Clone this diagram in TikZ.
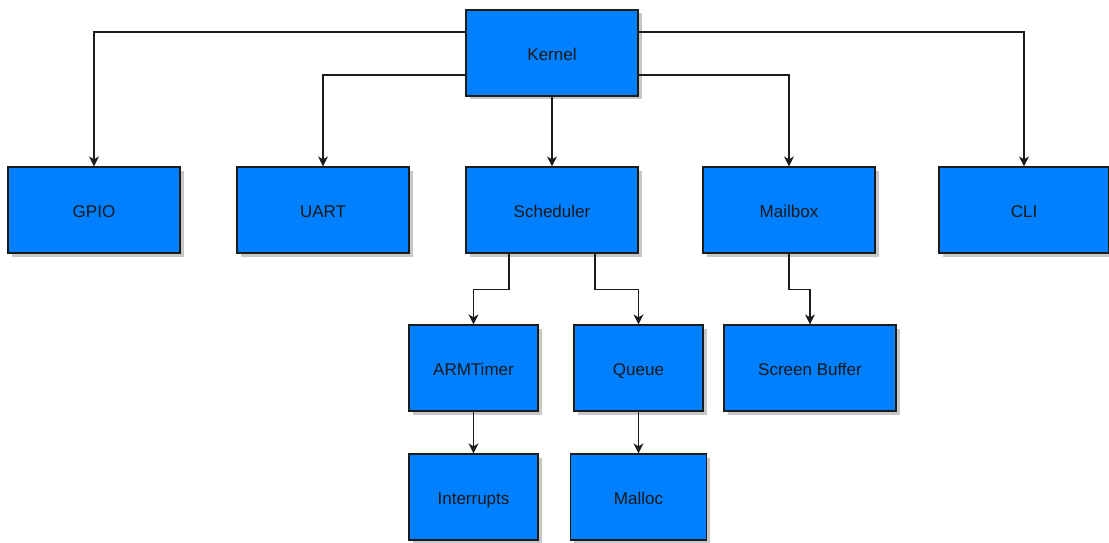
\documentclass[tikz,border=0pt]{standalone}
\usepackage{fontspec}
\setmainfont{Liberation Sans}
\usetikzlibrary{arrows.meta,shadows}
\definecolor{boxblue}{HTML}{007FFF}
\definecolor{edge}{HTML}{1C1C1C}
\tikzset{
  block/.style={draw=edge, line width=1.2pt, fill=boxblue, text=black!90,
    minimum height=86pt, inner sep=0pt, text height=16pt, text depth=1pt,
    font=\fontsize{17}{19}\selectfont,
    drop shadow={shadow xshift=3.5pt, shadow yshift=-3.5pt, fill=black!22, opacity=1}},
  arr/.style={draw=edge, line width=1.3pt, -{Stealth[length=10pt, width=10pt, inset=3pt]}}
}
\begin{document}
\begin{tikzpicture}[x=1pt, y=-1pt]
\useasboundingbox (0,0) rectangle (1109,543);
% top level
\node[block, minimum width=172pt] (kernel) at (552,53) {Kernel};
% second level
\node[block, minimum width=172pt] (gpio) at (94,210) {GPIO};
\node[block, minimum width=172pt] (uart) at (323,210) {UART};
\node[block, minimum width=172pt] (sched) at (552,210) {Scheduler};
\node[block, minimum width=172pt] (mailbox) at (789,210) {Mailbox};
\node[block, minimum width=170pt] (cli) at (1024,210) {CLI};
% third level
\node[block, minimum width=129pt] (armtimer) at (473.5,368) {ARMTimer};
\node[block, minimum width=129pt] (queue) at (638.5,368) {Queue};
\node[block, minimum width=172pt] (screen) at (810,368) {Screen Buffer};
% fourth level
\node[block, minimum width=129pt] (interrupts) at (473.5,497) {Interrupts};
\node[block, minimum width=136pt] (malloc) at (638.5,497) {Malloc};
% connectors from the kernel
\draw[arr] ([yshift=21pt]kernel.west) -| (gpio.north);
\draw[arr] ([yshift=-22pt]kernel.west) -| (uart.north);
\draw[arr] (kernel.south) -- (sched.north);
\draw[arr] ([yshift=-22pt]kernel.east) -| (mailbox.north);
\draw[arr] ([yshift=21pt]kernel.east) -| (cli.north);
% scheduler branches
\draw[arr] ([xshift=-43pt]sched.south) -- ++(0,36) -| (armtimer.north);
\draw[arr] ([xshift=43pt]sched.south) -- ++(0,36) -| (queue.north);
\draw[arr] (mailbox.south) -- ++(0,36) -| (screen.north);
% lower chains
\draw[arr] (armtimer.south) -- (interrupts.north);
\draw[arr] (queue.south) -- (malloc.north);
\end{tikzpicture}
\end{document}
